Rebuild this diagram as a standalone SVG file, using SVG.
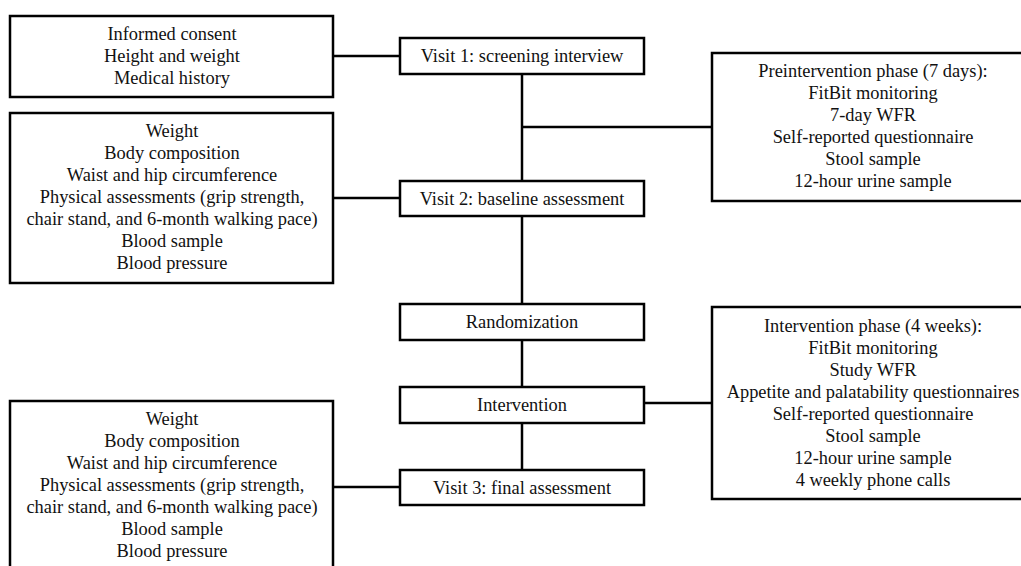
<svg xmlns="http://www.w3.org/2000/svg" width="1021" height="566" viewBox="0 0 1021 566">
<style>
.box{fill:#fff;stroke:#000;stroke-width:2.5}
.t{font-family:"Liberation Serif","Times New Roman",serif;font-size:18.4px;fill:#111;text-anchor:middle}
.c{stroke:#000;stroke-width:2.5;fill:none}
</style>
<rect x="0" y="0" width="1021" height="566" fill="#fff"/>
<g id="connectors">
<line class="c" x1="333" y1="56" x2="400" y2="56"/>
<line class="c" x1="333" y1="198" x2="400" y2="198"/>
<line class="c" x1="333" y1="487" x2="400" y2="487"/>
<line class="c" x1="522" y1="74" x2="522" y2="181"/>
<line class="c" x1="522" y1="127" x2="712" y2="127"/>
<line class="c" x1="522" y1="216" x2="522" y2="304"/>
<line class="c" x1="522" y1="340" x2="522" y2="387"/>
<line class="c" x1="522" y1="423" x2="522" y2="470"/>
<line class="c" x1="644" y1="403" x2="712" y2="403"/>
</g>
<g id="screening-items">
<rect class="box" x="10" y="16" width="323" height="81"/>
<text class="t" x="172" y="40">Informed consent</text>
<text class="t" x="172" y="62">Height and weight</text>
<text class="t" x="172" y="84">Medical history</text>
</g>
<g id="visit1">
<rect class="box" x="400" y="38" width="244" height="36"/>
<text class="t" x="522" y="62">Visit 1: screening interview</text>
</g>
<g id="baseline-items">
<rect class="box" x="10" y="113" width="323" height="170"/>
<text class="t" x="172" y="137">Weight</text>
<text class="t" x="172" y="159">Body composition</text>
<text class="t" x="172" y="181">Waist and hip circumference</text>
<text class="t" x="172" y="203">Physical assessments (grip strength,</text>
<text class="t" x="172" y="225">chair stand, and 6-month walking pace)</text>
<text class="t" x="172" y="247">Blood sample</text>
<text class="t" x="172" y="269">Blood pressure</text>
</g>
<g id="visit2">
<rect class="box" x="400" y="181" width="244" height="35"/>
<text class="t" x="522" y="205">Visit 2: baseline assessment</text>
</g>
<g id="preintervention">
<rect class="box" x="712" y="53" width="330" height="148"/>
<text class="t" x="873" y="77">Preintervention phase (7 days):</text>
<text class="t" x="873" y="99">FitBit monitoring</text>
<text class="t" x="873" y="121">7-day WFR</text>
<text class="t" x="873" y="143">Self-reported questionnaire</text>
<text class="t" x="873" y="165">Stool sample</text>
<text class="t" x="873" y="187">12-hour urine sample</text>
</g>
<g id="randomization">
<rect class="box" x="400" y="304" width="244" height="36"/>
<text class="t" x="522" y="328">Randomization</text>
</g>
<g id="intervention">
<rect class="box" x="400" y="387" width="244" height="36"/>
<text class="t" x="522" y="411">Intervention</text>
</g>
<g id="intervention-phase">
<rect class="box" x="712" y="307" width="330" height="192"/>
<text class="t" x="873" y="332">Intervention phase (4 weeks):</text>
<text class="t" x="873" y="354">FitBit monitoring</text>
<text class="t" x="873" y="376">Study WFR</text>
<text class="t" x="873" y="398">Appetite and palatability questionnaires</text>
<text class="t" x="873" y="420">Self-reported questionnaire</text>
<text class="t" x="873" y="442">Stool sample</text>
<text class="t" x="873" y="464">12-hour urine sample</text>
<text class="t" x="873" y="486">4 weekly phone calls</text>
</g>
<g id="visit3">
<rect class="box" x="400" y="470" width="244" height="35"/>
<text class="t" x="522" y="494">Visit 3: final assessment</text>
</g>
<g id="final-items">
<rect class="box" x="10" y="401" width="323" height="180"/>
<text class="t" x="172" y="425">Weight</text>
<text class="t" x="172" y="447">Body composition</text>
<text class="t" x="172" y="469">Waist and hip circumference</text>
<text class="t" x="172" y="491">Physical assessments (grip strength,</text>
<text class="t" x="172" y="513">chair stand, and 6-month walking pace)</text>
<text class="t" x="172" y="535">Blood sample</text>
<text class="t" x="172" y="557">Blood pressure</text>
</g>
</svg>
